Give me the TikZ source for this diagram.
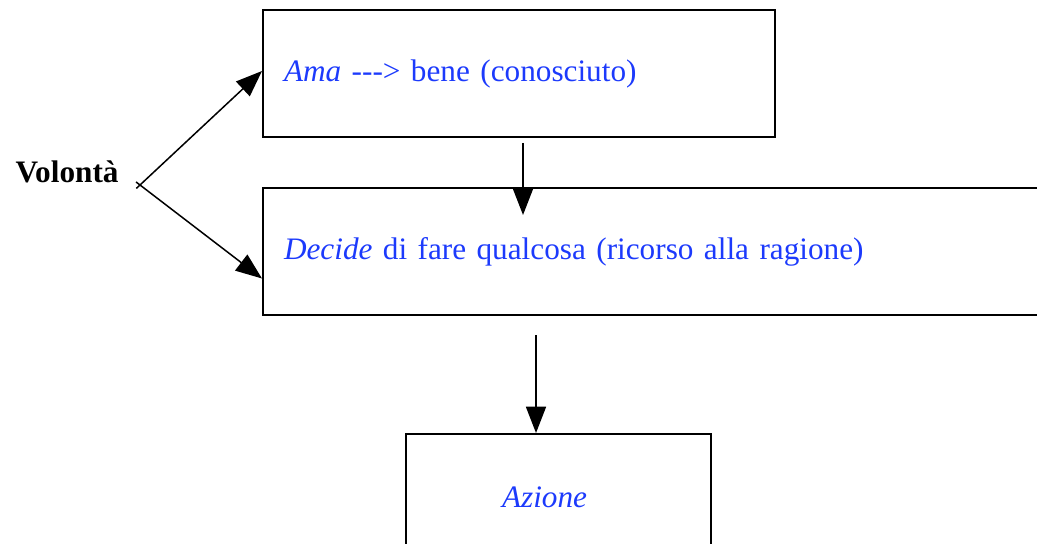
\documentclass[tikz,border=0pt]{standalone}
\usepackage{fontspec}
\setmainfont{Liberation Serif}
\usetikzlibrary{arrows.meta}
\definecolor{testo}{RGB}{28,58,252}

\begin{document}
\begin{tikzpicture}[x=0.4pt,y=-0.4pt]
\tikzstyle{box} = [draw,rectangle,line width=0.8pt,inner ysep=0pt,inner xsep=8.4pt,
  minimum height=50.8pt,align=left,anchor=north west,text=testo,
  font=\fontsize{12.5}{15}\selectfont]
\tikzstyle{freccia} = [line width=0.6pt,-{Triangle[length=10.5pt,width=8pt]}]

\useasboundingbox (0,0) rectangle (1037,544);
\clip (0,0) rectangle (1037,544);

\node[anchor=base west,inner sep=0pt,font=\fontsize{12.5}{15}\selectfont\bfseries] (volonta) at (15,183) {Volontà};
\coordinate (bivio) at (140,185);

\node[box,text width=188pt] (ama) at (262,9) {\textit{Ama} -{}-{}-> bene (conosciuto)};
\node[box,text width=302.4pt] (decide) at (262,187) {\textit{Decide} di fare qualcosa (ricorso alla ragione)};
\node[box,text width=45.2pt,inner xsep=38.4pt] (azione) at (405,433) {\textit{Azione}};

\draw[freccia,shorten <=-2pt] (bivio) -- ([yshift=1pt]ama.west);
\draw[freccia,shorten <=-2pt] (bivio) -- ([yshift=-10.8pt]decide.west);

\draw[freccia] ([xshift=1.6pt,yshift=-2pt]ama.south) -- ++(0,72);
\draw[freccia] ([xshift=-9pt,yshift=39pt]azione.north) -- ([xshift=-9pt]azione.north);

\end{tikzpicture}
\end{document}
